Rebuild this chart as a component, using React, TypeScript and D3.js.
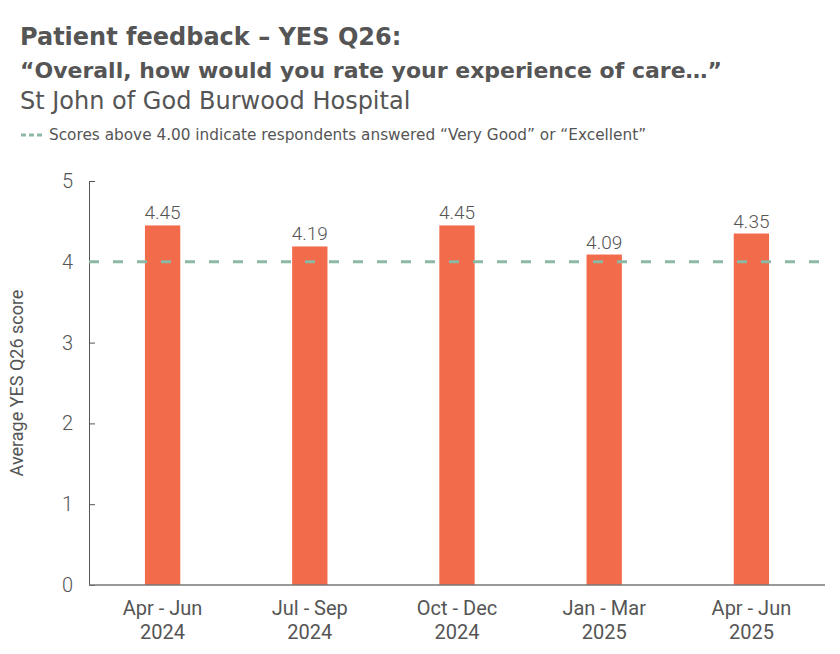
import React, {useRef, useEffect} from 'react';
import * as d3 from 'd3';

const quarters = ['Apr - Jun|2024', 'Jul - Sep|2024', 'Oct - Dec|2024', 'Jan - Mar|2025', 'Apr - Jun|2025'];
const scores = [4.45, 4.19, 4.45, 4.09, 4.35];
const yTicks = [0, 1, 2, 3, 4, 5];
const threshold = 4;

const W = 840;
const H = 654;
const FONT = 'Roboto, "Noto Sans", sans-serif';
const HEAD = '"DejaVu Sans", "Open Sans", sans-serif';
const TEXT = '#555';
const BAR = '#F26B4A';
const REF = '#8DB8A3';

const App: React.FC = () => {
    const svgRef = useRef<SVGSVGElement>(null);

    useEffect(() => {
        if (!svgRef.current) return;
        const svg = d3.select(svgRef.current);
        svg.selectAll('*').remove();

        const m = {left: 89, right: 15, top: 181, bottom: 69};

        // titles
        const titles = [
            {t: 'Patient feedback – YES Q26:', y: 45, size: 24, w: 700},
            {t: '“Overall, how would you rate your experience of care…”', y: 78, size: 22, w: 700},
            {t: 'St John of God Burwood Hospital', y: 109, size: 24, w: 400},
        ];
        titles.forEach(d => {
            svg.append('text')
                .attr('x', 20).attr('y', d.y)
                .style('font-family', HEAD)
                .style('font-size', `${d.size}px`)
                .style('font-weight', d.w)
                .style('fill', TEXT)
                .text(d.t);
        });

        // legend
        svg.append('line')
            .attr('x1', 21).attr('x2', 43).attr('y1', 135).attr('y2', 135)
            .style('stroke', REF).style('stroke-width', 3)
            .style('stroke-dasharray', '5,3');
        svg.append('text')
            .attr('x', 49).attr('y', 140)
            .style('font-family', HEAD).style('font-size', '15.3px').style('fill', TEXT)
            .text('Scores above 4.00 indicate respondents answered “Very Good” or “Excellent”');

        const x = d3.scaleBand()
            .domain(quarters)
            .range([m.left, W - m.right])
            .paddingInner(0.76)
            .paddingOuter(0.38);

        const y = d3.scaleLinear().domain([0, 5]).range([H - m.bottom, m.top]);

        // y axis
        const yAxis = svg.append('g')
            .attr('transform', `translate(${m.left},0)`)
            .call(d3.axisLeft(y).tickValues(yTicks).tickSize(-6).tickPadding(16).tickFormat(d3.format('d')));
        yAxis.select('.domain').attr('stroke', '#555');
        yAxis.selectAll('.tick line').attr('stroke', '#555');
        yAxis.selectAll('.tick text')
            .style('font-family', FONT).style('font-size', '20px').style('font-weight', 300).style('fill', TEXT);

        svg.append('text')
            .attr('transform', `translate(23,${(y(0) + y(5)) / 2}) rotate(-90)`)
            .attr('text-anchor', 'middle')
            .style('font-family', FONT).style('font-size', '18px').style('fill', TEXT)
            .text('Average YES Q26 score');

        // bars
        svg.selectAll('.bar')
            .data(scores)
            .enter()
            .append('rect')
            .attr('class', 'bar')
            .attr('x', (_, i) => x(quarters[i])!)
            .attr('width', x.bandwidth())
            .attr('y', d => y(d))
            .attr('height', d => y(0) - y(d))
            .style('fill', BAR);

        svg.selectAll('.val')
            .data(scores)
            .enter()
            .append('text')
            .attr('class', 'val')
            .attr('x', (_, i) => x(quarters[i])! + x.bandwidth() / 2)
            .attr('y', d => y(d) - 6)
            .attr('text-anchor', 'middle')
            .style('font-family', FONT).style('font-size', '19px').style('font-weight', 300).style('fill', TEXT)
            .text(d => d.toFixed(2));

        // x axis baseline
        svg.append('line')
            .attr('x1', m.left).attr('x2', W - m.right)
            .attr('y1', y(0)).attr('y2', y(0))
            .style('stroke', '#777').style('stroke-width', 1.5);

        quarters.forEach(q => {
            const [a, b] = q.split('|');
            const cx = x(q)! + x.bandwidth() / 2;
            const t = svg.append('text')
                .attr('x', cx)
                .attr('text-anchor', 'middle')
                .style('font-family', FONT).style('font-size', '20px').style('fill', TEXT);
            t.append('tspan').attr('x', cx).attr('y', 615).text(a);
            t.append('tspan').attr('x', cx).attr('y', 639).text(b);
        });

        // reference line at 4
        svg.append('line')
            .attr('x1', m.left).attr('x2', W - m.right)
            .attr('y1', y(threshold)).attr('y2', y(threshold))
            .style('stroke', REF).style('stroke-width', 3)
            .style('stroke-dasharray', '10,14');
    }, []);

    return (
        <svg
            ref={svgRef}
            width={W}
            height={H}
            viewBox={`0 0 ${W} ${H}`}
            style={{position: 'absolute', left: 0, top: 0, background: '#fff'}}
        />
    );
};

export default App;
